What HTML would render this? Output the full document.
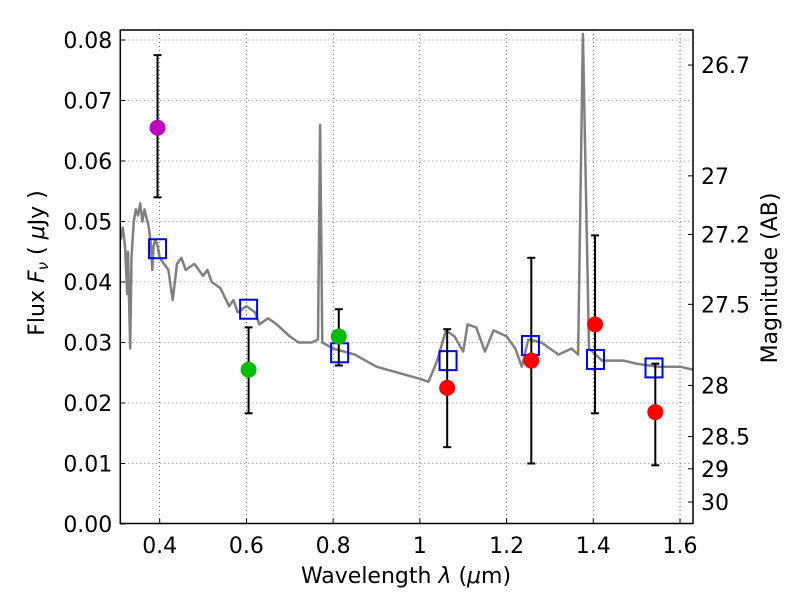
<!DOCTYPE html>
<html><head><meta charset="utf-8"><style>
body{margin:0;background:#fff;}
text{font-family:"DejaVu Sans","Liberation Sans",sans-serif;}
</style></head><body>
<svg id="chart" width="800" height="600" viewBox="0 0 800 600" xmlns="http://www.w3.org/2000/svg"></svg>
<script>
const xTicks=[0.4,0.6,0.8,1.0,1.2,1.4,1.6];
const xTickLabels=["0.4","0.6","0.8","1","1.2","1.4","1.6"];
const yTicks=[0,0.01,0.02,0.03,0.04,0.05,0.06,0.07,0.08];
const yTickLabels=["0.00","0.01","0.02","0.03","0.04","0.05","0.06","0.07","0.08"];
const magTicks=[26.7,27,27.2,27.5,28,28.5,29,30];
const specLam=[0.31,0.315,0.32,0.325,0.327,0.332,0.335,0.34,0.345,0.35,0.355,0.36,0.365,0.37,0.375,0.38,0.383,0.386,0.39,0.395,0.40,0.41,0.42,0.43,0.44,0.45,0.46,0.48,0.5,0.51,0.52,0.54,0.56,0.57,0.58,0.6,0.62,0.63,0.65,0.67,0.7,0.72,0.75,0.765,0.77,0.775,0.8,0.85,0.9,0.95,1.0,1.02,1.04,1.06,1.08,1.1,1.11,1.13,1.15,1.17,1.2,1.22,1.235,1.25,1.28,1.3,1.32,1.35,1.365,1.376,1.39,1.42,1.47,1.5,1.55,1.6,1.63];
const specFlux=[0.047,0.049,0.046,0.038,0.045,0.029,0.044,0.050,0.052,0.051,0.053,0.050,0.052,0.0505,0.049,0.046,0.042,0.046,0.047,0.046,0.044,0.043,0.042,0.037,0.043,0.044,0.042,0.043,0.041,0.042,0.040,0.039,0.036,0.037,0.035,0.036,0.035,0.033,0.034,0.033,0.031,0.030,0.030,0.0305,0.066,0.030,0.029,0.028,0.026,0.025,0.024,0.0235,0.027,0.032,0.031,0.0285,0.033,0.0325,0.0285,0.032,0.031,0.029,0.026,0.0305,0.030,0.029,0.028,0.029,0.028,0.081,0.029,0.027,0.027,0.0265,0.026,0.026,0.0255];
const modelLam=[0.395,0.605,0.815,1.065,1.255,1.405,1.54];
const modelFlux=[0.0455,0.0355,0.0283,0.027,0.0295,0.0272,0.0258];
const obsLam=[0.395,0.605,0.813,1.063,1.257,1.404,1.543];
const obsFlux=[0.0655,0.0255,0.031,0.0225,0.027,0.033,0.0185];
const obsLo=[0.054,0.0183,0.0262,0.0127,0.010,0.0183,0.0097];
const obsHi=[0.0775,0.0325,0.0355,0.0322,0.044,0.0477,0.0265];
const obsColor=["#bf00bf","#00bf00","#00bf00","#ff0000","#ff0000","#ff0000","#ff0000"];

const L=120.3,R=693,T=30,B=523.5;
const X=v=>159.7+(v-0.4)*433.6;
const Y=v=>524-v*6050;
const svg=document.getElementById('chart');
const NS='http://www.w3.org/2000/svg';
function mk(tag,attrs,parent){const e=document.createElementNS(NS,tag);for(const k in attrs)e.setAttribute(k,attrs[k]);(parent||svg).appendChild(e);return e;}

xTicks.forEach((t,i)=>{
 const g=mk('line',{x1:X(t),x2:X(t),y1:T,y2:B,stroke:'#000','stroke-width':0.6,'stroke-dasharray':'1,3'});
 
 
 const tk=mk('line',{x1:X(t),x2:X(t),y1:B,y2:B-5,stroke:'#000'});
 
 
 const tx=mk('text',{x:X(t),y:553,'font-size':22,'text-anchor':'middle'});
 tx.textContent=xTickLabels[i];
 
 
});
yTicks.forEach((t,i)=>{
 if(t>0){const g=mk('line',{x1:L,x2:R,y1:Y(t),y2:Y(t),stroke:'#000','stroke-width':0.6,'stroke-dasharray':'1,3'});
 
 }
 const tk=mk('line',{x1:L,x2:L+5,y1:Y(t),y2:Y(t),stroke:'#000'});
 
 
 const tx=mk('text',{x:L-8,y:Y(t)+8,'font-size':22,'text-anchor':'end'});
 tx.textContent=yTickLabels[i];
 
 
});
magTicks.forEach(m=>{
 const f=Math.pow(10,(23.9-m)/2.5);const y=Y(f);
 const tk=mk('line',{x1:R,x2:R-5,y1:y,y2:y,stroke:'#000'});
 
 
 const tx=mk('text',{x:R+8,y:y+8,'font-size':22});
 tx.textContent=String(m);
 
 
});
const clip=mk('clipPath',{id:'pc'});mk('rect',{x:L,y:T,width:R-L,height:B-T},clip);
const pts=specLam.map((l,i)=>X(l).toFixed(1)+','+Y(specFlux[i]).toFixed(1)).join(' ');
const sp=mk('polyline',{points:pts,fill:'none',stroke:'#808080','stroke-width':2.5,'clip-path':'url(#pc)','stroke-linejoin':'round'});


modelLam.forEach((l,i)=>{
 const r=mk('rect',{x:X(l)-8.5,y:Y(modelFlux[i])-9.5,width:17,height:19,fill:'none',stroke:'#0000ff','stroke-width':2});
 
 
});
obsLam.forEach((l,i)=>{
 const x=X(l);
 const e=mk('line',{x1:x,x2:x,y1:Y(obsLo[i]),y2:Y(obsHi[i]),stroke:'#000','stroke-width':2});
 
 
 [obsLo[i],obsHi[i]].forEach(v=>{const c=mk('line',{x1:x-4,x2:x+4,y1:Y(v),y2:Y(v),stroke:'#000','stroke-width':2});
 
 });
 const c=mk('circle',{cx:x,cy:Y(obsFlux[i]),r:8,fill:obsColor[i]});
 
 
});
const fr=mk('rect',{x:L,y:T,width:R-L,height:B-T,fill:'none',stroke:'#000','stroke-width':1.5});


const xl=mk('text',{x:406,y:583,'font-size':22,'text-anchor':'middle'});
xl.innerHTML='Wavelength  <tspan font-style="italic">λ</tspan> (<tspan font-style="italic">μ</tspan>m)';


const yl=mk('text',{x:0,y:0,'font-size':22,'text-anchor':'middle',transform:'translate(44,263) rotate(-90)'});
yl.innerHTML='Flux  <tspan font-style="italic">F</tspan><tspan font-style="italic" font-size="15" dy="4">ν</tspan><tspan dy="-4">  ( </tspan><tspan font-style="italic">μ</tspan>Jy )';


const ml=mk('text',{x:0,y:0,'font-size':22,'text-anchor':'middle',transform:'translate(777,278) rotate(-90)'});
ml.textContent='Magnitude (AB)';


</script>
</body></html>
